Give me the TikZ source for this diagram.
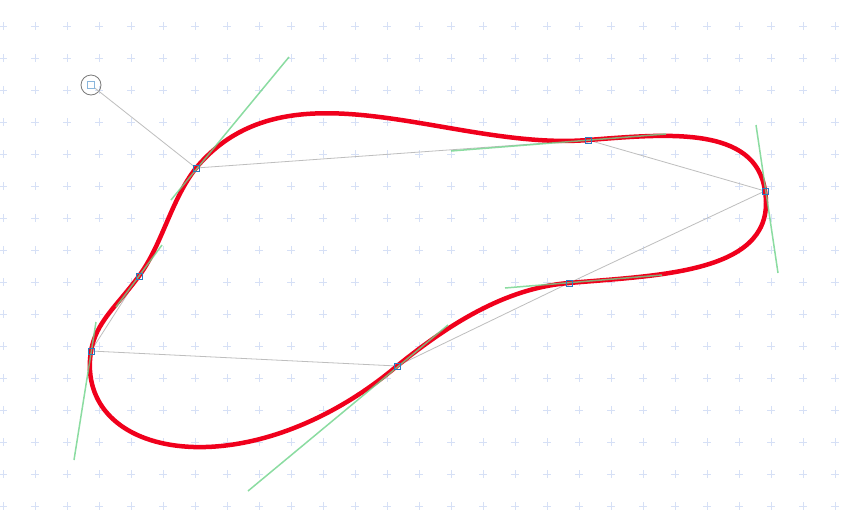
\documentclass[tikz,border=0pt]{standalone}
\usepackage{xcolor}
\usepackage{tikz}
\usetikzlibrary{calc}
\definecolor{gridblue}{HTML}{D6E0F6}
\definecolor{curvered}{HTML}{F0001C}
\definecolor{handlegreen}{HTML}{6ED48A}
\definecolor{polygray}{HTML}{BEBEBE}
\definecolor{knotblue}{HTML}{2B7BC0}
\definecolor{ringgray}{HTML}{7A7A7A}
\tikzset{
  gridmark/.style={draw=gridblue, line width=0.7pt},
  poly/.style={draw=polygray, line width=0.8pt},
  handle/.style={draw=handlegreen, line width=1.5pt, opacity=0.8},
  curve/.style={draw=curvered, line width=4.5pt, line join=round},
  knot/.style={rectangle, draw=knotblue, line width=0.9pt, minimum size=6pt, inner sep=0pt},
  startknot/.style={knot, draw=knotblue!55, fill=white, line width=1.6pt, minimum size=7pt},
  startring/.style={circle, draw=ringgray, line width=0.8pt, minimum size=20pt, inner sep=0pt}
}
\begin{document}
\begin{tikzpicture}[x=1pt, y=-1pt]
 \useasboundingbox[fill=white] (0,0) rectangle (859,523);
 % background marks
 \foreach \x in {3,35,...,835}
  \foreach \y in {26,58,...,506}
   \draw[gridmark] (\x-4,\y) -- (\x+4,\y) (\x,\y-4) -- (\x,\y+4);
 % knots on the curve
 \coordinate (k1) at (196,168);
 \coordinate (k2) at (588,140);
 \coordinate (k3) at (765,191);
 \coordinate (k4) at (569,283);
 \coordinate (k5) at (397,366);
 \coordinate (k6) at (91,351);
 \coordinate (k7) at (139,276);
 % handle ends (a = incoming, b = outgoing)
 \coordinate (h1a) at (171,200); \coordinate (h1b) at (289,57);
 \coordinate (h2a) at (451,151); \coordinate (h2b) at (666,134);
 \coordinate (h3a) at (756,125); \coordinate (h3b) at (778,273);
 \coordinate (h4a) at (662,275); \coordinate (h4b) at (505,288);
 \coordinate (h5a) at (448,325); \coordinate (h5b) at (248,491);
 \coordinate (h6a) at (74,460);  \coordinate (h6b) at (96,322);
 \coordinate (h7a) at (116,307); \coordinate (h7b) at (162,245);
 \node[startring] (s0) at (91,85) {};
 % control polygon
 \draw[poly] (s0.center) -- (k1) -- (k2) -- (k3) -- (k4) -- (k5) -- (k6) -- (k7);
 % the closed curve
 \draw[curve] (k1) .. controls (h1b) and (h2a) .. (k2)
   .. controls (h2b) and (h3a) .. (k3)
   .. controls (h3b) and (h4a) .. (k4)
   .. controls (h4b) and (h5a) .. (k5)
   .. controls (h5b) and (h6a) .. (k6)
   .. controls (h6b) and (h7a) .. (k7)
   .. controls (h7b) and (h1a) .. cycle;
 % tangent handles
 \foreach \i in {1,...,7}
  \draw[handle] (h\i a) -- (h\i b);
 \node[startknot] (q0) at (s0) {};
 \foreach \i in {1,...,7}
  \node[knot] (q\i) at (k\i) {};
\end{tikzpicture}
\end{document}
